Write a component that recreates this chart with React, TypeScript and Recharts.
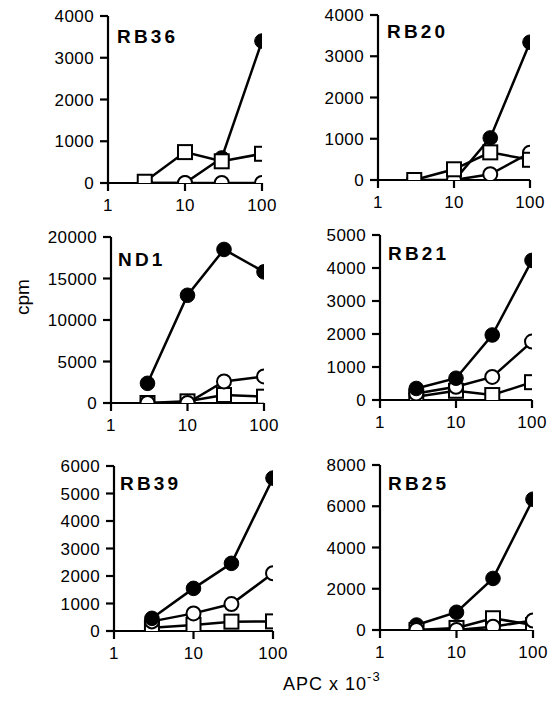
import React from 'react';
import { LineChart, Line, XAxis, YAxis } from 'recharts';

// ---- data ----
const xValues = [3, 10, 30, 100];
const xTicks = [1, 10, 100];

const panelNames = ['RB36', 'RB20', 'ND1', 'RB21', 'RB39', 'RB25'];

const rb36Filled = [0, 0, 600, 3400];
const rb36Open = [0, 0, 0, 0];
const rb36Square = [30, 740, 520, 700];
const rb36Ticks = [0, 1000, 2000, 3000, 4000];

const rb20Filled = [0, -20, 1020, 3340];
const rb20Open = [0, 0, 140, 660];
const rb20Square = [0, 260, 670, 490];
const rb20Ticks = [0, 1000, 2000, 3000, 4000];

const nd1Filled = [2370, 12980, 18500, 15800];
const nd1Open = [0, 0, 2600, 3200];
const nd1Square = [0, 200, 960, 760];
const nd1Ticks = [0, 5000, 10000, 15000, 20000];

const rb21Filled = [350, 660, 1970, 4230];
const rb21Open = [200, 400, 700, 1770];
const rb21Square = [100, 280, 150, 540];
const rb21Ticks = [0, 1000, 2000, 3000, 4000, 5000];

const rb39Filled = [460, 1550, 2460, 5560];
const rb39Open = [350, 640, 980, 2100];
const rb39Square = [120, 220, 340, 350];
const rb39Ticks = [0, 1000, 2000, 3000, 4000, 5000, 6000];

const rb25Filled = [240, 860, 2500, 6340];
const rb25Open = [0, 0, 160, 460];
const rb25Square = [0, 100, 570, 240];
const rb25Ticks = [0, 2000, 4000, 6000, 8000];

// ---- layout (page coordinates of plot area: left x=1, right x=100, top = max, bottom = 0) ----
const layouts = [
  { L: 108, R: 262, T: 16, B: 183, tx: 117, ty: 43, order: ['filled', 'open', 'square'] },
  { L: 378, R: 530, T: 15, B: 180, tx: 387, ty: 38, order: ['filled', 'open', 'square'] },
  { L: 111, R: 264, T: 237, B: 403, tx: 118, ty: 266, order: ['filled', 'square', 'open'] },
  { L: 380, R: 532, T: 235, B: 400, tx: 388, ty: 260, order: ['square', 'open', 'filled'] },
  { L: 114, R: 273, T: 466, B: 631, tx: 120, ty: 490, order: ['square', 'open', 'filled'] },
  { L: 380, R: 533, T: 465, B: 630, tx: 388, ty: 490, order: ['filled', 'square', 'open'] },
];

const toSeries = (vals: number[]) => xValues.map((x, i) => ({ x, y: vals[i] }));

const panels = [
  { name: panelNames[0], filled: rb36Filled, open: rb36Open, square: rb36Square, ticks: rb36Ticks },
  { name: panelNames[1], filled: rb20Filled, open: rb20Open, square: rb20Square, ticks: rb20Ticks },
  { name: panelNames[2], filled: nd1Filled, open: nd1Open, square: nd1Square, ticks: nd1Ticks },
  { name: panelNames[3], filled: rb21Filled, open: rb21Open, square: rb21Square, ticks: rb21Ticks },
  { name: panelNames[4], filled: rb39Filled, open: rb39Open, square: rb39Square, ticks: rb39Ticks },
  { name: panelNames[5], filled: rb25Filled, open: rb25Open, square: rb25Square, ticks: rb25Ticks },
];

const FONT = '"Liberation Sans", Arial, Helvetica, sans-serif';

const FilledDot = (p: any) => {
  if (p.cx == null || p.cy == null) return null;
  return <circle key={`f${p.index}`} cx={p.cx} cy={p.cy} r={7.3} fill="#000" stroke="#000" strokeWidth={1} />;
};
const OpenDot = (p: any) => {
  if (p.cx == null || p.cy == null) return null;
  return <circle key={`o${p.index}`} cx={p.cx} cy={p.cy} r={7} fill="#fff" stroke="#000" strokeWidth={2} />;
};
const SquareDot = (p: any) => {
  if (p.cx == null || p.cy == null) return null;
  return <rect key={`s${p.index}`} x={p.cx - 7} y={p.cy - 7} width={14} height={14} fill="#fff" stroke="#000" strokeWidth={2} />;
};

const dotFor: Record<string, any> = { filled: FilledDot, open: OpenDot, square: SquareDot };

const MT = 12, MR = 24, YW = 70, XH = 34;

function Panel({ panel, layout }: any) {
  const w = layout.R - layout.L + YW + MR;
  const h = layout.B - layout.T + MT + XH;
  const ymax = panel.ticks[panel.ticks.length - 1];
  const tickStyle = { fill: '#000', fontSize: 17, fontFamily: FONT, letterSpacing: 0.4 };
  return (
    <div style={{ position: 'absolute', left: layout.L - YW, top: layout.T - MT }}>
      <LineChart width={w} height={h} margin={{ top: MT, right: MR, bottom: 0, left: 0 }}>
        <XAxis
          dataKey="x"
          type="number"
          scale="log"
          domain={[1, 100]}
          ticks={xTicks}
          interval={0}
          allowDataOverflow
          height={XH}
          axisLine={{ stroke: '#000', strokeWidth: 2.2 }}
          tickLine={{ stroke: '#000', strokeWidth: 2.2 }}
          tickSize={8}
          tickMargin={8}
          tick={tickStyle}
        />
        <YAxis
          type="number"
          domain={[0, ymax]}
          ticks={panel.ticks}
          interval={0}
          width={YW}
          allowDataOverflow
          axisLine={{ stroke: '#000', strokeWidth: 2.2 }}
          tickLine={{ stroke: '#000', strokeWidth: 2.2 }}
          tickSize={8}
          tickMargin={6}
          tick={tickStyle}
        />
        {layout.order.map((k: string) => (
          <Line
            key={k}
            data={toSeries(panel[k])}
            dataKey="y"
            stroke="#000"
            strokeWidth={2.5}
            dot={dotFor[k]}
            activeDot={false}
            isAnimationActive={false}
            type="linear"
          />
        ))}
      </LineChart>
    </div>
  );
}

export default function App() {
  return (
    <div style={{ position: 'absolute', left: 0, top: 0, width: 554, height: 708, background: '#fff', overflow: 'hidden' }}>
      {panels.map((p, i) => (
        <Panel key={p.name} panel={p} layout={layouts[i]} />
      ))}
      <svg width={554} height={708} style={{ position: 'absolute', left: 0, top: 0, pointerEvents: 'none' }}>
        {panels.map((p, i) => (
          <text key={p.name} x={layouts[i].tx} y={layouts[i].ty} fontFamily={FONT} fontWeight="bold" fontSize={19} letterSpacing={3.2} fill="#000">
            {p.name}
          </text>
        ))}
        <text x={29} y={297} fontFamily={FONT} fontSize={19} textAnchor="middle" transform="rotate(-90 29 297)" fill="#000">
          cpm
        </text>
        <text x={283} y={690} fontFamily={FONT} fontSize={18} letterSpacing={1} fill="#000">
          APC x 10<tspan dy={-9} fontSize={13}>-3</tspan>
        </text>
      </svg>
    </div>
  );
}
